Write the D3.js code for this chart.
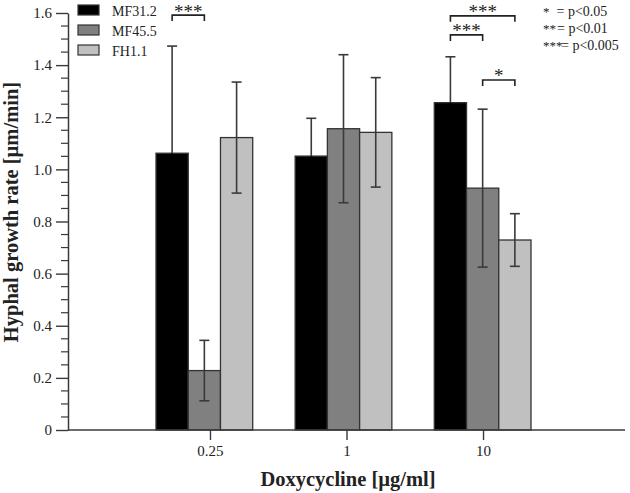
<!DOCTYPE html>
<html><head><meta charset="utf-8">
<script src="https://cdn.jsdelivr.net/npm/d3@7"></script>
<style>body{margin:0;background:#fff}svg{display:block}text{font-family:"Liberation Serif","Times New Roman",serif;fill:#222}</style>
</head><body><svg id="c" width="630" height="493"></svg>
<script>
const categories = ["0.25", "1", "10"];
const seriesNames = ["MF31.2", "MF45.5", "FH1.1"];
const seriesColors = ["#000000", "#808080", "#c0c0c0"];
const meanMF312 = [1.062, 1.051, 1.256];
const meanMF455 = [0.228, 1.156, 0.928];
const meanFH11  = [1.122, 1.142, 0.729];
const sdMF312 = [0.411, 0.145, 0.176];
const sdMF455 = [0.116, 0.284, 0.303];
const sdFH11  = [0.213, 0.210, 0.101];
const yTicks = [0, 0.2, 0.4, 0.6, 0.8, 1.0, 1.2, 1.4, 1.6];
const yTickLabels = ["0", "0.2", "0.4", "0.6", "0.8", "1.0", "1.2", "1.4", "1.6"];
// significance brackets: category, from series, to series, label, height (data units)
const sigCat = ["0.25", "10", "10", "10"];
const sigFrom = [0, 0, 0, 1];
const sigTo = [1, 2, 1, 2];
const sigLabel = ["***", "***", "***", "*"];
const sigLevel = [1.592, 1.589, 1.516, 1.343];
const pStars = ["*", "**", "***"];
const pText = ["= p<0.05", "= p<0.01", "= p<0.005"];

const means = [meanMF312, meanMF455, meanFH11];
const sds = [sdMF312, sdMF455, sdFH11];

const svg = d3.select("#c");
const axisColor = "#3a3a3a";
const errColor = "#3a3a3a";
const y = d3.scaleLinear().domain([0, 1.6]).range([430, 13]);
const xTick = d3.scalePoint().domain(categories).range([68, 625]).padding(1.04);
const xGroup = d3.scaleBand().domain(categories).range([156, 531]).paddingInner(0.305);
const xSeries = d3.scaleBand().domain(d3.range(seriesNames.length)).range([0, xGroup.bandwidth()]);

// bars
const rows = [];
categories.forEach((c, ci) => seriesNames.forEach((s, si) => rows.push({c, si, v: means[si][ci], sd: sds[si][ci]})));
const bx = d => xGroup(d.c) + xSeries(d.si);
svg.append("g").selectAll("rect").data(rows).join("rect")
  .attr("x", bx).attr("width", xSeries.bandwidth())
  .attr("y", d => y(d.v)).attr("height", d => y(0) - y(d.v))
  .attr("fill", d => seriesColors[d.si]).attr("stroke", "#333").attr("stroke-width", 1.3);

// error bars (lower half on the black bars is hidden by the fill colour)
const eg = svg.append("g").attr("stroke-width", 1.6);
rows.forEach(d => {
  const cx = bx(d) + xSeries.bandwidth() / 2;
  const lo = d.v - d.sd, hi = d.v + d.sd;
  const lowCol = d.si === 0 ? seriesColors[0] : errColor;
  eg.append("line").attr("x1", cx).attr("x2", cx).attr("y1", y(d.v)).attr("y2", y(hi)).attr("stroke", errColor);
  eg.append("line").attr("x1", cx - 5).attr("x2", cx + 5).attr("y1", y(hi)).attr("y2", y(hi)).attr("stroke", errColor);
  eg.append("line").attr("x1", cx).attr("x2", cx).attr("y1", y(lo)).attr("y2", y(d.v)).attr("stroke", lowCol);
  eg.append("line").attr("x1", cx - 5).attr("x2", cx + 5).attr("y1", y(lo)).attr("y2", y(lo)).attr("stroke", lowCol);
});

// y axis
const yAxis = d3.axisLeft(y).tickValues(yTicks).tickFormat((d, i) => yTickLabels[i]).tickSize(12).tickSizeOuter(0).tickPadding(4);
const gy = svg.append("g").attr("transform", "translate(68,0)").call(yAxis);
gy.select(".domain").attr("stroke", axisColor).attr("stroke-width", 1.5);
gy.selectAll(".tick line").attr("stroke", axisColor).attr("stroke-width", 1.4);
gy.selectAll(".tick text").attr("font-size", 15).attr("font-family", "Liberation Serif").attr("fill", "#222");
const minor = d3.range(0, 1.6001, 0.05).filter(v => Math.abs(v * 5 - Math.round(v * 5)) > 1e-6);
svg.append("g").selectAll("line").data(minor).join("line")
  .attr("x1", 61).attr("x2", 68).attr("y1", d => y(d)).attr("y2", d => y(d))
  .attr("stroke", axisColor).attr("stroke-width", 1.2);

// x axis
const xAxis = d3.axisBottom(xTick).tickSize(10).tickSizeOuter(0).tickPadding(5);
const gx = svg.append("g").attr("transform", "translate(0,430)").call(xAxis);
gx.select(".domain").attr("stroke", axisColor).attr("stroke-width", 1.5).attr("d", "M68,0H625");
gx.selectAll(".tick line").attr("stroke", axisColor).attr("stroke-width", 1.4);
gx.selectAll(".tick text").attr("font-size", 15).attr("font-family", "Liberation Serif").attr("fill", "#222");

// titles
svg.append("text").attr("x", 348).attr("y", 486).attr("text-anchor", "middle")
  .attr("font-size", 20.5).attr("font-weight", "bold").attr("fill", "#111").text("Doxycycline [µg/ml]");
svg.append("text").attr("transform", "translate(18,212) rotate(-90)").attr("text-anchor", "middle")
  .attr("font-size", 20.5).attr("font-weight", "bold").attr("fill", "#111").text("Hyphal growth rate [µm/min]");

// legend
const lg = svg.append("g");
seriesNames.forEach((s, i) => {
  lg.append("rect").attr("x", 78).attr("y", 5 + i * 20).attr("width", 21).attr("height", 10)
    .attr("fill", seriesColors[i]).attr("stroke", "#333").attr("stroke-width", 1.2);
  lg.append("text").attr("x", 112).attr("y", 15.5 + i * 20).attr("font-size", 14).text(s);
});

// significance brackets
const sg = svg.append("g");
sigCat.forEach((c, i) => {
  const x1 = xGroup(c) + xSeries(sigFrom[i]) + xSeries.bandwidth() / 2;
  const x2 = xGroup(c) + xSeries(sigTo[i]) + xSeries.bandwidth() / 2;
  const yy = y(sigLevel[i]);
  sg.append("path").attr("d", `M${x1},${yy + 6}V${yy}H${x2}V${yy + 6}`)
    .attr("fill", "none").attr("stroke", "#222").attr("stroke-width", 1.6);
  sg.append("text").attr("x", (x1 + x2) / 2).attr("y", yy + 2.5).attr("text-anchor", "middle")
    .attr("font-size", 19).text(sigLabel[i]);
});

// p-value key
const eqX = [556.5, 557, 561];
pStars.forEach((s, i) => {
  svg.append("text").attr("x", 543).attr("y", 16 + i * 17).attr("font-size", 13).text(s);
  svg.append("text").attr("x", eqX[i]).attr("y", 16 + i * 17).attr("font-size", 14).text(pText[i]);
});
</script></body></html>
